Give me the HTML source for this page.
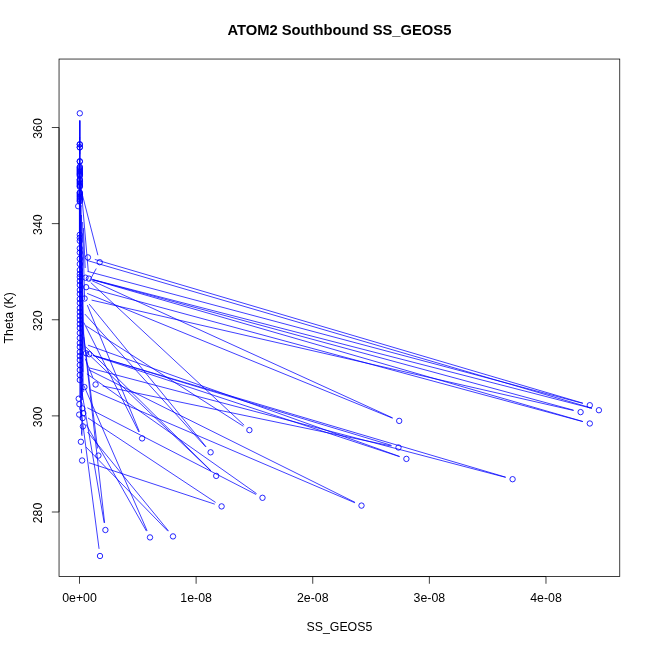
<!DOCTYPE html>
<html><head><meta charset="utf-8"><title>ATOM2 Southbound SS_GEOS5</title>
<style>
html,body{margin:0;padding:0;background:#fff;}
body{width:650px;height:650px;overflow:hidden;}
svg{display:block;font-family:"Liberation Sans",Arial,Helvetica,sans-serif;font-size:12.35px;fill:#000;}
.d{stroke:#0000ff;stroke-width:0.75;fill:none;}
.a{stroke:#000;stroke-width:0.75;fill:none;}
.t{font-size:14.75px;font-weight:bold;}
</style></head><body>
<svg width="650" height="650" viewBox="0 0 650 650">
<rect width="650" height="650" fill="#fff" stroke="none"/>
<g class="d"><path d="M79.80 120.50L79.80 137.10M79.80 120.50L79.80 140.20M79.90 120.50L79.90 154.30M79.70 120.50L79.70 162.80M79.60 137.00L79.60 300.00M80.00 150.00L80.20 330.00M79.40 160.00L79.40 260.00M79.80 137.00L79.80 398.00M80.30 185.00L81.00 398.00M80.60 200.00L81.80 396.00M81.00 205.00L82.50 400.00M81.50 215.00L83.20 392.00M80.00 230.00L80.60 420.00M81.50 240.00L83.00 372.00M82.00 250.00L84.00 350.00M80.20 300.00L82.00 436.00M82.60 222.00L84.60 300.00M83.40 228.00L85.20 268.00M94.81 259.43L582.89 403.17M86.71 260.32L591.99 408.18M87.46 271.35L582.84 403.35M97.91 255.23L81.59 191.77M96.26 268.52L89.54 280.88M88.29 271.43L80.41 179.17M90.77 282.60L244.13 425.20M89.16 304.07L206.04 446.73M243.33 426.23L86.07 325.87M92.47 279.50L591.93 408.40M92.45 279.59L573.65 410.21M91.62 300.11L573.58 410.49M88.95 287.98L582.85 421.62M92.42 279.70L582.88 421.50M92.05 280.69L392.65 417.91M87.17 293.42L392.53 418.18M88.08 345.22L399.62 456.48M92.84 355.46L399.56 456.64M92.89 355.28L391.61 445.42M102.65 385.97L391.45 446.03M96.11 356.24L505.69 477.16M88.96 367.83L505.64 477.37M88.45 369.71L355.05 502.39M91.02 389.93L354.88 502.77M92.91 377.82L85.19 358.68M84.84 314.03L205.76 446.97M85.62 346.76L211.08 470.84M85.71 351.47L210.99 470.93M86.88 373.85L256.62 493.65M87.40 407.79L256.10 494.51M88.94 462.75L214.76 504.15M88.00 417.97L215.60 502.43M83.74 322.43L138.86 431.97M87.34 305.16L139.36 431.74M80.93 409.14L99.07 548.86M81.21 388.10L104.19 522.90M83.80 337.16L104.60 522.84M86.14 424.37L146.46 531.13M83.88 385.60L147.12 530.80M85.92 446.96L167.98 531.24M87.46 431.97L168.44 530.83M81.87 320.15L97.53 448.45M81.36 448.99L81.64 453.31M81.42 434.62L82.08 425.28"/><circle cx="589.80" cy="405.20" r="2.7" stroke-width="0.85"/><circle cx="598.90" cy="410.20" r="2.7" stroke-width="0.85"/><circle cx="580.60" cy="412.10" r="2.7" stroke-width="0.85"/><circle cx="589.80" cy="423.50" r="2.7" stroke-width="0.85"/><circle cx="512.60" cy="479.20" r="2.7" stroke-width="0.85"/><circle cx="399.20" cy="420.90" r="2.7" stroke-width="0.85"/><circle cx="398.50" cy="447.50" r="2.7" stroke-width="0.85"/><circle cx="406.40" cy="458.90" r="2.7" stroke-width="0.85"/><circle cx="361.50" cy="505.60" r="2.7" stroke-width="0.85"/><circle cx="249.40" cy="430.10" r="2.7" stroke-width="0.85"/><circle cx="210.60" cy="452.30" r="2.7" stroke-width="0.85"/><circle cx="216.20" cy="475.90" r="2.7" stroke-width="0.85"/><circle cx="262.50" cy="497.80" r="2.7" stroke-width="0.85"/><circle cx="221.60" cy="506.40" r="2.7" stroke-width="0.85"/><circle cx="142.10" cy="438.40" r="2.7" stroke-width="0.85"/><circle cx="98.40" cy="455.60" r="2.7" stroke-width="0.85"/><circle cx="105.40" cy="530.00" r="2.7" stroke-width="0.85"/><circle cx="150.00" cy="537.40" r="2.7" stroke-width="0.85"/><circle cx="173.00" cy="536.40" r="2.7" stroke-width="0.85"/><circle cx="100.00" cy="556.00" r="2.7" stroke-width="0.85"/><circle cx="95.60" cy="384.50" r="2.7" stroke-width="0.85"/><circle cx="99.70" cy="262.20" r="2.7" stroke-width="0.85"/><circle cx="87.90" cy="257.40" r="2.7" stroke-width="0.85"/><circle cx="88.90" cy="278.60" r="2.7" stroke-width="0.85"/><circle cx="86.10" cy="287.20" r="2.7" stroke-width="0.85"/><circle cx="84.60" cy="298.50" r="2.7" stroke-width="0.85"/><circle cx="85.50" cy="277.70" r="2.7" stroke-width="0.85"/><circle cx="86.00" cy="353.20" r="2.7" stroke-width="0.85"/><circle cx="89.20" cy="354.20" r="2.7" stroke-width="0.85"/><circle cx="84.40" cy="387.10" r="2.7" stroke-width="0.85"/><circle cx="80.90" cy="441.80" r="2.7" stroke-width="0.85"/><circle cx="82.10" cy="460.50" r="2.7" stroke-width="0.85"/><circle cx="79.80" cy="113.30" r="2.7" stroke-width="0.85"/><circle cx="79.80" cy="144.30" r="2.7" stroke-width="0.85"/><circle cx="79.80" cy="144.50" r="2.7" stroke-width="0.85"/><circle cx="79.80" cy="147.40" r="2.7" stroke-width="0.85"/><circle cx="79.80" cy="147.20" r="2.7" stroke-width="0.85"/><circle cx="79.80" cy="161.50" r="2.7" stroke-width="0.85"/><circle cx="79.80" cy="161.30" r="2.7" stroke-width="0.85"/><circle cx="79.80" cy="166.80" r="2.7" stroke-width="0.85"/><circle cx="79.80" cy="167.50" r="2.7" stroke-width="0.85"/><circle cx="79.80" cy="168.50" r="2.7" stroke-width="0.85"/><circle cx="79.80" cy="169.50" r="2.7" stroke-width="0.85"/><circle cx="79.80" cy="170.50" r="2.7" stroke-width="0.85"/><circle cx="79.80" cy="171.50" r="2.7" stroke-width="0.85"/><circle cx="79.80" cy="172.50" r="2.7" stroke-width="0.85"/><circle cx="79.80" cy="173.50" r="2.7" stroke-width="0.85"/><circle cx="79.80" cy="174.20" r="2.7" stroke-width="0.85"/><circle cx="79.80" cy="175.00" r="2.7" stroke-width="0.85"/><circle cx="79.80" cy="176.00" r="2.7" stroke-width="0.85"/><circle cx="79.80" cy="179.50" r="2.7" stroke-width="0.85"/><circle cx="79.80" cy="180.00" r="2.7" stroke-width="0.85"/><circle cx="79.80" cy="181.20" r="2.7" stroke-width="0.85"/><circle cx="79.80" cy="182.50" r="2.7" stroke-width="0.85"/><circle cx="79.80" cy="183.70" r="2.7" stroke-width="0.85"/><circle cx="79.80" cy="185.00" r="2.7" stroke-width="0.85"/><circle cx="79.80" cy="186.00" r="2.7" stroke-width="0.85"/><circle cx="79.80" cy="186.80" r="2.7" stroke-width="0.85"/><circle cx="79.80" cy="192.50" r="2.7" stroke-width="0.85"/><circle cx="79.80" cy="193.00" r="2.7" stroke-width="0.85"/><circle cx="79.80" cy="194.20" r="2.7" stroke-width="0.85"/><circle cx="79.80" cy="195.50" r="2.7" stroke-width="0.85"/><circle cx="79.80" cy="196.70" r="2.7" stroke-width="0.85"/><circle cx="79.80" cy="198.00" r="2.7" stroke-width="0.85"/><circle cx="79.80" cy="199.20" r="2.7" stroke-width="0.85"/><circle cx="79.80" cy="200.50" r="2.7" stroke-width="0.85"/><circle cx="79.80" cy="201.50" r="2.7" stroke-width="0.85"/><circle cx="79.80" cy="234.80" r="2.7" stroke-width="0.85"/><circle cx="79.80" cy="237.80" r="2.7" stroke-width="0.85"/><circle cx="79.80" cy="240.90" r="2.7" stroke-width="0.85"/><circle cx="79.80" cy="248.30" r="2.7" stroke-width="0.85"/><circle cx="79.80" cy="252.60" r="2.7" stroke-width="0.85"/><circle cx="79.80" cy="258.80" r="2.7" stroke-width="0.85"/><circle cx="79.80" cy="264.00" r="2.7" stroke-width="0.85"/><circle cx="79.80" cy="270.00" r="2.7" stroke-width="0.85"/><circle cx="79.80" cy="274.00" r="2.7" stroke-width="0.85"/><circle cx="79.80" cy="277.00" r="2.7" stroke-width="0.85"/><circle cx="79.80" cy="281.00" r="2.7" stroke-width="0.85"/><circle cx="79.80" cy="285.00" r="2.7" stroke-width="0.85"/><circle cx="79.80" cy="290.00" r="2.7" stroke-width="0.85"/><circle cx="79.80" cy="294.00" r="2.7" stroke-width="0.85"/><circle cx="79.80" cy="299.00" r="2.7" stroke-width="0.85"/><circle cx="79.80" cy="303.00" r="2.7" stroke-width="0.85"/><circle cx="79.80" cy="308.00" r="2.7" stroke-width="0.85"/><circle cx="79.80" cy="312.00" r="2.7" stroke-width="0.85"/><circle cx="79.80" cy="316.00" r="2.7" stroke-width="0.85"/><circle cx="79.80" cy="320.00" r="2.7" stroke-width="0.85"/><circle cx="79.80" cy="324.00" r="2.7" stroke-width="0.85"/><circle cx="79.80" cy="328.00" r="2.7" stroke-width="0.85"/><circle cx="79.80" cy="333.00" r="2.7" stroke-width="0.85"/><circle cx="79.80" cy="338.00" r="2.7" stroke-width="0.85"/><circle cx="79.80" cy="343.00" r="2.7" stroke-width="0.85"/><circle cx="79.80" cy="347.00" r="2.7" stroke-width="0.85"/><circle cx="79.80" cy="352.00" r="2.7" stroke-width="0.85"/><circle cx="79.80" cy="356.00" r="2.7" stroke-width="0.85"/><circle cx="79.80" cy="360.00" r="2.7" stroke-width="0.85"/><circle cx="79.80" cy="365.00" r="2.7" stroke-width="0.85"/><circle cx="79.80" cy="370.00" r="2.7" stroke-width="0.85"/><circle cx="79.80" cy="375.00" r="2.7" stroke-width="0.85"/><circle cx="79.80" cy="380.00" r="2.7" stroke-width="0.85"/><circle cx="78.20" cy="206.20" r="2.7" stroke-width="0.85"/><circle cx="78.70" cy="398.70" r="2.7" stroke-width="0.85"/><circle cx="79.40" cy="404.20" r="2.7" stroke-width="0.85"/><circle cx="82.30" cy="408.40" r="2.7" stroke-width="0.85"/><circle cx="79.20" cy="414.60" r="2.7" stroke-width="0.85"/><circle cx="83.30" cy="413.20" r="2.7" stroke-width="0.85"/><circle cx="82.60" cy="418.10" r="2.7" stroke-width="0.85"/><circle cx="82.90" cy="426.40" r="2.7" stroke-width="0.85"/></g>
<g class="a"><rect x="59.04" y="59.04" width="560.72" height="517.52"/><path d="M79.50 576.56H545.98" /><path d="M79.50 576.56v7.2"/><path d="M196.12 576.56v7.2"/><path d="M312.74 576.56v7.2"/><path d="M429.36 576.56v7.2"/><path d="M545.98 576.56v7.2"/><path d="M59.04 512.00V127.52" /><path d="M59.04 512.00h-7.2"/><path d="M59.04 415.88h-7.2"/><path d="M59.04 319.76h-7.2"/><path d="M59.04 223.64h-7.2"/><path d="M59.04 127.52h-7.2"/></g>
<text class="t" x="339.4" y="34.7" text-anchor="middle">ATOM2 Southbound SS_GEOS5</text>
<text x="339.4" y="630.7" text-anchor="middle">SS_GEOS5</text>
<text transform="translate(13.0 317.8) rotate(-90)" text-anchor="middle">Theta (K)</text>
<text x="79.50" y="602.0" text-anchor="middle">0e+00</text><text x="196.12" y="602.0" text-anchor="middle">1e-08</text><text x="312.74" y="602.0" text-anchor="middle">2e-08</text><text x="429.36" y="602.0" text-anchor="middle">3e-08</text><text x="545.98" y="602.0" text-anchor="middle">4e-08</text><text transform="translate(41.8 513.00) rotate(-90)" text-anchor="middle">280</text><text transform="translate(41.8 416.88) rotate(-90)" text-anchor="middle">300</text><text transform="translate(41.8 320.76) rotate(-90)" text-anchor="middle">320</text><text transform="translate(41.8 224.64) rotate(-90)" text-anchor="middle">340</text><text transform="translate(41.8 128.52) rotate(-90)" text-anchor="middle">360</text>
</svg>
</body></html>
